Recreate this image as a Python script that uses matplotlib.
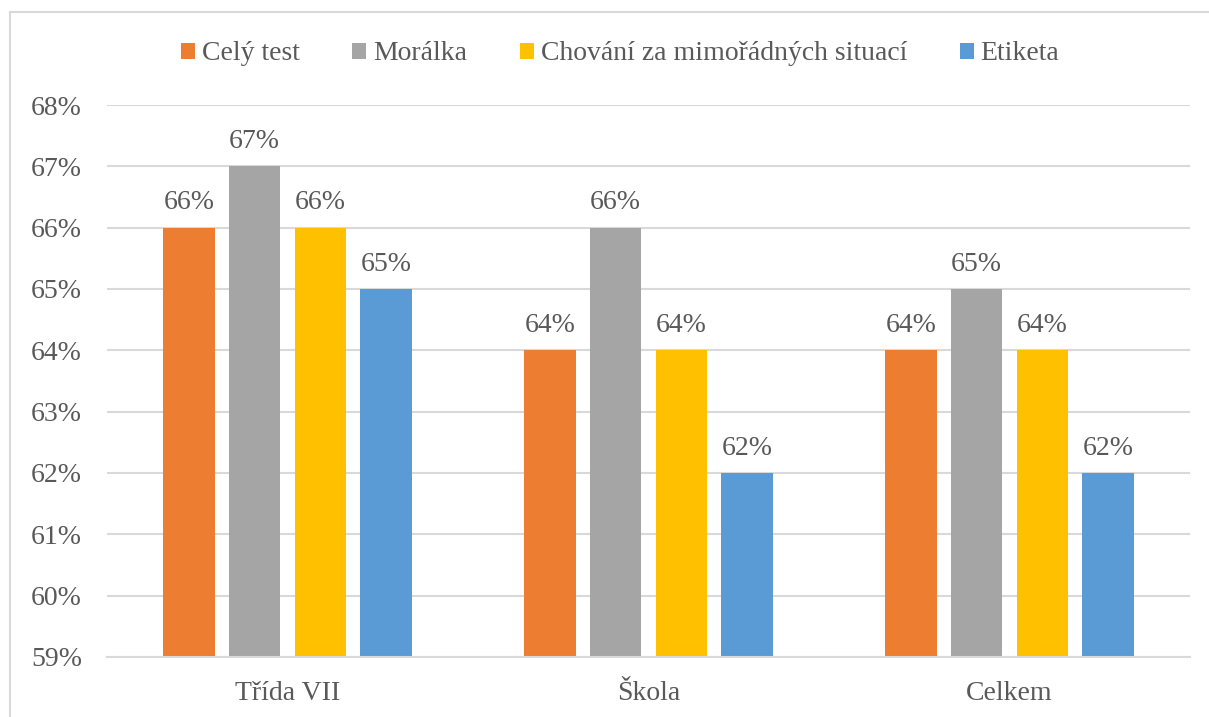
import matplotlib.pyplot as plt
import numpy as np
from matplotlib.patches import Rectangle

categories = ["Třída VII", "Škola", "Celkem"]
series_names = ["Celý test", "Morálka", "Chování za mimořádných situací", "Etiketa"]
cely_test = [66, 64, 64]
moralka = [67, 66, 65]
chovani = [66, 64, 64]
etiketa = [65, 62, 62]
y_ticks = [59, 60, 61, 62, 63, 64, 65, 66, 67, 68]

COLORS = ["#ED7D31", "#A5A5A5", "#FFC000", "#5B9BD5"]
TEXT = "#595959"
FS = 20


def main():
    plt.rcParams["font.family"] = ["Liberation Serif", "DejaVu Serif"]
    fig = plt.figure(figsize=(12.09, 7.17), dpi=100, facecolor="white")
    ax = fig.add_axes([107 / 1209, 1 - 657 / 717, (1190 - 107) / 1209, (657 - 105) / 717])

    # light frame around the chart area
    fig.patches.append(Rectangle((10 / 1209, -0.05), 1.2, 1 - 12 / 717 + 0.05,
                                 transform=fig.transFigure, fill=False,
                                 ec="#D9D9D9", lw=1.5, zorder=0))

    data = [cely_test, moralka, chovani, etiketa]
    x = np.arange(len(categories))
    pitch = 0.182
    width = 0.142
    for i, (name, vals, color) in enumerate(zip(series_names, data, COLORS)):
        offs = (i - 1.5) * pitch
        bars = ax.bar(x + offs, vals, width, color=color, label=name, zorder=2)
        for b, v in zip(bars, vals):
            ax.text(b.get_x() + b.get_width() / 2, v + 0.2, f"{v}%",
                    ha="center", va="bottom", fontsize=FS, color=TEXT)

    ax.set_ylim(59, 68)
    ax.set_xlim(-0.5, 2.5)
    ax.set_yticks(y_ticks)
    ax.set_yticklabels([f"{t}%" for t in y_ticks])
    ax.set_xticks(x)
    ax.set_xticklabels(categories)
    ax.tick_params(axis="both", length=0, labelsize=FS, labelcolor=TEXT)
    ax.tick_params(axis="y", pad=18)
    ax.tick_params(axis="x", pad=17)
    ax.yaxis.grid(True, color="#D9D9D9", lw=1.5, zorder=0)
    ax.set_axisbelow(True)
    for s in ["top", "right", "left"]:
        ax.spines[s].set_visible(False)
    ax.spines["bottom"].set_color("#D9D9D9")
    ax.spines["bottom"].set_linewidth(1.5)

    fig.legend(loc="center", bbox_to_anchor=(620 / 1209, 1 - 54 / 717), ncol=4,
               frameon=False, fontsize=FS, labelcolor=TEXT, handlelength=0.5,
               handleheight=0.5, handletextpad=0.25, columnspacing=1.9)

    fig.savefig("out.png", dpi=100, facecolor="white")


if __name__ == "__main__":
    main()
